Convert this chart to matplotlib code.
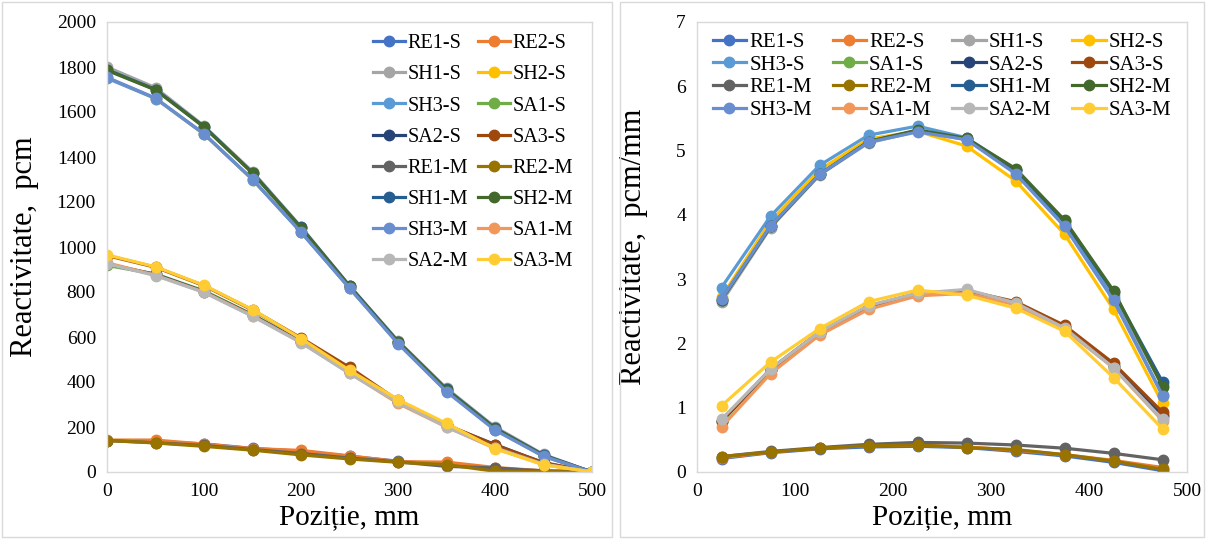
import matplotlib
matplotlib.use('Agg')
import matplotlib.pyplot as plt
from matplotlib.patches import Rectangle

plt.rcParams['font.family'] = ['Liberation Serif', 'DejaVu Serif']

names = ['RE1-S', 'RE2-S', 'SH1-S', 'SH2-S', 'SH3-S', 'SA1-S', 'SA2-S', 'SA3-S',
         'RE1-M', 'RE2-M', 'SH1-M', 'SH2-M', 'SH3-M', 'SA1-M', 'SA2-M', 'SA3-M']
colors = ['#4472C4', '#ED7D31', '#A5A5A5', '#FFC000', '#5B9BD5', '#70AD47', '#264478', '#9E480E',
          '#636363', '#997300', '#255E91', '#43682B', '#698ED0', '#F1975A', '#B7B7B7', '#FFCD33']

# left: integral reactivity, pcm
x_left = [0, 50, 100, 150, 200, 250, 300, 350, 400, 450, 500]
re1_s = [140, 135, 125, 105, 92, 70, 48, 33, 14, 6, 0]
re2_s = [142, 142, 124, 104, 96, 72, 46, 44, 20, 5, 0]
sh1_s = [1800, 1708, 1538, 1335, 1090, 828, 583, 372, 200, 78, 0]
sh2_s = [1752, 1660, 1502, 1300, 1068, 818, 573, 362, 190, 70, 0]
sh3_s = [1750, 1660, 1502, 1300, 1066, 817, 572, 360, 188, 70, 0]
sa1_s = [918, 880, 805, 700, 582, 445, 312, 205, 112, 38, 0]
sa2_s = [925, 878, 802, 697, 580, 443, 313, 208, 122, 40, 0]
sa3_s = [962, 910, 828, 720, 596, 465, 318, 210, 120, 42, 0]
re1_m = [140, 130, 118, 100, 82, 62, 45, 25, 18, 4, 0]
re2_m = [140, 129, 114, 97, 76, 58, 43, 33, 3, 2, 0]
sh1_m = [1788, 1700, 1535, 1330, 1087, 827, 580, 368, 195, 75, 0]
sh2_m = [1785, 1698, 1533, 1328, 1085, 825, 578, 365, 193, 73, 0]
sh3_m = [1754, 1662, 1503, 1301, 1066, 818, 571, 357, 186, 70, 0]
sa1_m = [930, 875, 800, 695, 576, 440, 305, 200, 105, 33, 0]
sa2_m = [925, 873, 798, 692, 575, 438, 310, 200, 108, 35, 0]
sa3_m = [965, 912, 830, 722, 593, 452, 322, 216, 104, 32, 0]

# right: differential reactivity, pcm/mm
x_right = [25, 75, 125, 175, 225, 275, 325, 375, 425, 475]
d_re1_s = [0.21, 0.30, 0.36, 0.39, 0.40, 0.38, 0.32, 0.25, 0.15, 0.02]
d_re2_s = [0.22, 0.31, 0.37, 0.41, 0.42, 0.39, 0.34, 0.27, 0.18, 0.07]
d_sh1_s = [2.64, 3.80, 4.62, 5.12, 5.30, 5.17, 4.68, 3.88, 2.75, 1.35]
d_sh2_s = [2.72, 3.90, 4.70, 5.18, 5.30, 5.07, 4.53, 3.70, 2.53, 1.07]
d_sh3_s = [2.87, 3.98, 4.77, 5.24, 5.38, 5.20, 4.70, 3.85, 2.70, 1.20]
d_sa1_s = [0.78, 1.58, 2.16, 2.56, 2.76, 2.80, 2.62, 2.24, 1.63, 0.85]
d_sa2_s = [0.79, 1.59, 2.17, 2.57, 2.77, 2.81, 2.63, 2.26, 1.65, 0.88]
d_sa3_s = [0.80, 1.60, 2.18, 2.58, 2.78, 2.82, 2.65, 2.28, 1.69, 0.93]
d_re1_m = [0.24, 0.32, 0.38, 0.43, 0.46, 0.45, 0.42, 0.37, 0.29, 0.19]
d_re2_m = [0.24, 0.31, 0.37, 0.41, 0.42, 0.38, 0.35, 0.27, 0.17, 0.04]
d_sh1_m = [2.68, 3.82, 4.63, 5.14, 5.31, 5.18, 4.70, 3.90, 2.80, 1.40]
d_sh2_m = [2.68, 3.82, 4.63, 5.14, 5.32, 5.19, 4.72, 3.92, 2.82, 1.33]
d_sh3_m = [2.69, 3.83, 4.63, 5.13, 5.29, 5.17, 4.64, 3.82, 2.67, 1.19]
d_sa1_m = [0.70, 1.53, 2.13, 2.53, 2.74, 2.78, 2.60, 2.22, 1.62, 0.80]
d_sa2_m = [0.82, 1.60, 2.18, 2.59, 2.78, 2.84, 2.63, 2.24, 1.62, 0.82]
d_sa3_m = [1.03, 1.71, 2.23, 2.65, 2.83, 2.75, 2.55, 2.19, 1.47, 0.67]

left_series = [re1_s, re2_s, sh1_s, sh2_s, sh3_s, sa1_s, sa2_s, sa3_s,
               re1_m, re2_m, sh1_m, sh2_m, sh3_m, sa1_m, sa2_m, sa3_m]
right_series = [d_re1_s, d_re2_s, d_sh1_s, d_sh2_s, d_sh3_s, d_sa1_s, d_sa2_s, d_sa3_s,
                d_re1_m, d_re2_m, d_sh1_m, d_sh2_m, d_sh3_m, d_sa1_m, d_sa2_m, d_sa3_m]

W, H = 1207, 539
fig = plt.figure(figsize=(W / 100, H / 100), dpi=100)

# chart area frames
for x0, x1 in [(2, 612), (620, 1204)]:
    fig.add_artist(Rectangle((x0 / W, 2 / H), (x1 - x0) / W, (H - 4) / H,
                             transform=fig.transFigure, fill=False,
                             edgecolor='#D9D9D9', linewidth=1.0))


def px_axes(x0, x1, y0, y1):
    return fig.add_axes([x0 / W, (H - y1) / H, (x1 - x0) / W, (y1 - y0) / H])


def style(ax):
    for s in ax.spines.values():
        s.set_color('#D9D9D9')
        s.set_linewidth(1.0)
    ax.tick_params(length=0, labelsize=14, colors='black')
    ax.tick_params(axis='x', pad=8)
    ax.tick_params(axis='y', pad=8)


def ordered(n, ncol):
    idx = []
    for j in range(ncol):
        idx += list(range(j, n, ncol))
    return idx


AX_TOP, AX_BOT = 22, 472
LABEL_Y = -(504 - AX_BOT) / (AX_BOT - AX_TOP)

ax1 = px_axes(107, 592, AX_TOP, AX_BOT)
hs = []
for name, col, ys in zip(names, colors, left_series):
    h, = ax1.plot(x_left, ys, color=col, lw=2.3, marker='o', ms=7.5, label=name)
    hs.append(h)
ax1.set_xlim(0, 500)
ax1.set_ylim(0, 2000)
ax1.set_xticks(range(0, 501, 100))
ax1.set_yticks(range(0, 2001, 200))
style(ax1)
ax1.set_xlabel('Poziție, mm', fontsize=21)
ax1.set_ylabel('Reactivitate,  pcm', fontsize=22)
ax1.xaxis.set_label_coords(0.5, LABEL_Y)
ax1.yaxis.set_label_coords(-0.14, 0.5)
idx = ordered(len(hs), 2)
ax1.legend([hs[i] for i in idx], [names[i] for i in idx], ncol=2, loc='upper right',
           bbox_to_anchor=(0.985, 1.0), frameon=False, fontsize=14.5, handlelength=1.6,
           columnspacing=0.5, handletextpad=0.1, labelspacing=0.6, borderaxespad=0.2)

ax2 = px_axes(697, 1187, AX_TOP, AX_BOT)
hs = []
for name, col, ys in zip(names, colors, right_series):
    h, = ax2.plot(x_right, ys, color=col, lw=2.3, marker='o', ms=7.5, label=name)
    hs.append(h)
ax2.set_xlim(0, 500)
ax2.set_ylim(0, 7)
ax2.set_xticks(range(0, 501, 100))
ax2.set_yticks(range(0, 8))
style(ax2)
ax2.set_xlabel('Poziție, mm', fontsize=21)
ax2.set_ylabel('Reactivitate,  pcm/mm', fontsize=22)
ax2.xaxis.set_label_coords(0.5, LABEL_Y)
ax2.yaxis.set_label_coords(-0.1, 0.5)
idx = ordered(len(hs), 4)
ax2.legend([hs[i] for i in idx], [names[i] for i in idx], ncol=4, loc='upper center',
           bbox_to_anchor=(0.5, 1.0), frameon=False, fontsize=15, handlelength=1.6,
           columnspacing=1.0, handletextpad=0.15, labelspacing=0.15, borderaxespad=0.1)

fig.savefig('out.png', dpi=100)
